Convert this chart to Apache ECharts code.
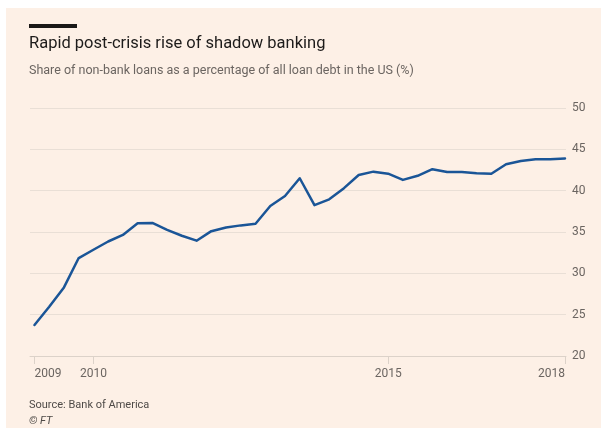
<!DOCTYPE html>
<html>
<head>
<meta charset="utf-8">
<script src="https://cdn.jsdelivr.net/npm/echarts@6/dist/echarts.min.js"></script>
<style>
html,body{margin:0;padding:0;background:#ffffff;}
#chart{width:601px;height:432px;}
</style>
</head>
<body>
<div id="chart"></div>
<script>
// ---- Data ----
const titleText = 'Rapid post-crisis rise of shadow banking';
const subtitleText = 'Share of non-bank loans as a percentage of all loan debt in the US (%)';
const sourceText = 'Source: Bank of America';
const creditText = '© FT';

const quarters = [
  '2009Q1','2009Q2','2009Q3','2009Q4',
  '2010Q1','2010Q2','2010Q3','2010Q4',
  '2011Q1','2011Q2','2011Q3','2011Q4',
  '2012Q1','2012Q2','2012Q3','2012Q4',
  '2013Q1','2013Q2','2013Q3','2013Q4',
  '2014Q1','2014Q2','2014Q3','2014Q4',
  '2015Q1','2015Q2','2015Q3','2015Q4',
  '2016Q1','2016Q2','2016Q3','2016Q4',
  '2017Q1','2017Q2','2017Q3','2017Q4',
  '2018Q1'
];
const nonBankShare = [
  23.75, 25.95, 28.30, 31.85,
  32.85, 33.85, 34.65, 36.05,
  36.10, 35.25, 34.55, 33.95,
  35.10, 35.55, 35.80, 36.00,
  38.15, 39.35, 41.50, 38.25,
  38.95, 40.30, 41.90, 42.30,
  42.05, 41.30, 41.80, 42.60,
  42.25, 42.25, 42.10, 42.05,
  43.20, 43.60, 43.80, 43.80,
  43.90
];
const xTickYears = [2009, 2010, 2015, 2018];
const yTickValues = [20, 25, 30, 35, 40, 45, 50];

// ---- Build series points from the quarter labels ----
function quarterToYear(q) {
  const y = parseInt(q.slice(0, 4), 10);
  const n = parseInt(q.slice(5), 10);
  return y + (n - 1) / 4;
}
const seriesData = quarters.map((q, i) => [quarterToYear(q), nonBankShare[i]]);

const FONT = 'Roboto, "Noto Sans", sans-serif';
const GREY = '#6b6561';
const GRID_COLOR = '#e9dfd6';
const AXIS_COLOR = '#dcd2c9';
const firstYear = xTickYears[0];
const lastYear = xTickYears[xTickYears.length - 1];

const chart = echarts.init(document.getElementById('chart'), null, {renderer: 'canvas'});

const option = {
  backgroundColor: '#ffffff',
  animation: false,
  textStyle: {fontFamily: FONT},
  graphic: [
    {type: 'rect', z: -10, silent: true, shape: {x: 6, y: 8, width: 595, height: 420}, style: {fill: '#fdf0e6'}},
    {type: 'rect', silent: true, shape: {x: 29, y: 24, width: 48, height: 4}, style: {fill: '#1a1817'}}
  ],
  title: [
    {text: titleText, left: 29, top: 35, padding: 0,
     textStyle: {fontFamily: FONT, fontSize: 16.5, fontWeight: 'normal', color: '#1d1b1a'}},
    {text: subtitleText, left: 29, top: 64, padding: 0,
     textStyle: {fontFamily: FONT, fontSize: 12.5, fontWeight: 'normal', color: GREY}},
    {text: sourceText, left: 29, top: 400, padding: 0,
     textStyle: {fontFamily: FONT, fontSize: 11, fontWeight: 'normal', color: '#4e4a47'}},
    {text: creditText, left: 29, top: 416, padding: 0,
     textStyle: {fontFamily: FONT, fontSize: 11, fontStyle: 'italic', fontWeight: 'normal', color: '#4e4a47'}}
  ],
  grid: {left: 30, right: 35, top: 108, bottom: 76},
  xAxis: {
    type: 'value',
    min: 2008.924,
    max: 2018.017,
    axisLine: {show: true, lineStyle: {color: AXIS_COLOR, width: 1}},
    axisTick: {show: true, customValues: xTickYears, length: 8, lineStyle: {color: AXIS_COLOR, width: 1}},
    splitLine: {show: false},
    axisLabel: {
      customValues: xTickYears,
      margin: 12,
      color: GREY,
      fontFamily: FONT,
      fontSize: 12,
      formatter: function (v) {
        const y = Math.round(v);
        if (y === firstYear) return '{l|' + y + '}';
        if (y === lastYear) return '{r|' + y + '}';
        return '{c|' + y + '}';
      },
      rich: {
        l: {padding: [0, 0, 0, 27], color: GREY, fontFamily: FONT, fontSize: 12},
        r: {padding: [0, 27, 0, 0], color: GREY, fontFamily: FONT, fontSize: 12},
        c: {color: GREY, fontFamily: FONT, fontSize: 12}
      }
    }
  },
  yAxis: {
    type: 'value',
    position: 'right',
    min: yTickValues[0],
    max: yTickValues[yTickValues.length - 1],
    interval: 5,
    axisLine: {show: false},
    axisTick: {show: false},
    splitLine: {show: true, lineStyle: {color: GRID_COLOR, width: 1}},
    axisLabel: {align: 'left', margin: 6, color: GREY, fontFamily: FONT, fontSize: 12}
  },
  series: [{
    type: 'line',
    data: seriesData,
    showSymbol: false,
    symbol: 'none',
    lineStyle: {color: '#1a5597', width: 2.5, join: 'round', cap: 'round'},
    z: 5
  }]
};
chart.setOption(option);
</script>
</body>
</html>
